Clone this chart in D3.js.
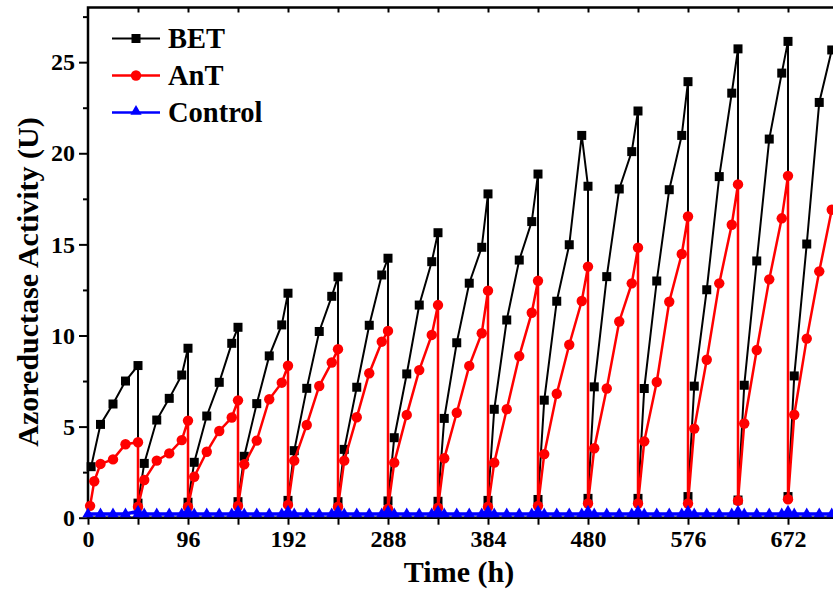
<!DOCTYPE html>
<html>
 <head>
 <meta charset="UTF-8">
 <style type="text/css">
   body { margin: 0; background: #fff; }
   svg { display: block; overflow: hidden; }
   text { font-family: "Liberation Serif", "Times New Roman", serif; font-weight: bold; }
 </style>
 <script src="https://d3js.org/d3.v7.min.js"></script>
 </head>
 <body>
 <script type="text/javascript">

    // [time (h), activity (U)]
    var betData = [
        [3,2.8],[12,5.12],[24,6.24],[36,7.5],[48,8.35],
        [48,0.8],[54,2.98],[66,5.36],[78,6.55],[90,7.83],[96,9.3],
        [96,0.85],[102,3.04],[114,5.58],[126,7.43],[138,9.57],[144,10.45],
        [144,0.88],[150,3.37],[162,6.26],[174,8.88],[186,10.58],[192,12.32],
        [192,0.95],[198,3.68],[210,7.1],[222,10.22],[234,12.15],[240,13.22],
        [240,0.88],[246,3.75],[258,7.16],[270,10.56],[282,13.32],[288,14.24],
        [288,0.92],[294,4.39],[306,7.89],[318,11.67],[330,14.05],[336,15.64],
        [336,0.9],[342,5.45],[354,9.6],[366,12.87],[378,14.84],[384,17.77],
        [384,0.95],[390,5.95],[402,10.85],[414,14.14],[426,16.25],[432,18.86],
        [432,1.0],[438,6.45],[450,11.88],[462,14.98],[474,20.98],[480,18.19],
        [480,1.06],[486,7.18],[498,13.23],[510,18.04],[522,20.09],[528,22.32],
        [528,1.06],[534,7.09],[546,12.99],[558,18.0],[570,20.98],[576,23.93],
        [576,1.16],[582,7.22],[594,12.51],[606,18.72],[618,23.3],[624,25.73],
        [624,0.97],[630,7.27],[642,14.09],[654,20.78],[666,24.4],[672,26.14],
        [672,1.16],[678,7.78],[690,15.02],[702,22.79],[714,25.67]
    ];

    var antData = [
        [2,0.65],[6,2.0],[12,2.95],[24,3.2],[36,4.03],[48,4.14],
        [48,0.6],[54,2.07],[66,3.13],[78,3.53],[90,4.26],[96,5.33],
        [96,0.6],[102,2.25],[114,3.62],[126,4.76],[138,5.5],[144,6.44],
        [144,0.64],[150,2.93],[162,4.23],[174,6.5],[186,7.41],[192,8.34],
        [192,0.7],[198,3.13],[210,5.09],[222,7.23],[234,8.52],[240,9.25],
        [240,0.6],[246,3.13],[258,5.51],[270,7.93],[282,9.66],[288,10.25],
        [288,0.5],[294,3.02],[306,5.64],[318,8.1],[330,10.03],[336,11.67],
        [336,0.55],[342,3.26],[354,5.76],[366,8.33],[378,10.12],[384,12.46],
        [384,0.6],[390,3.02],[402,5.95],[414,8.87],[426,11.25],[432,13.0],
        [432,0.65],[438,3.49],[450,6.8],[462,9.49],[474,11.89],[480,13.78],
        [480,0.78],[486,3.81],[498,7.09],[510,10.77],[522,12.86],[528,14.82],
        [528,0.78],[534,4.19],[546,7.45],[558,11.85],[570,14.47],[576,16.53],
        [576,0.78],[582,4.89],[594,8.67],[606,12.86],[618,16.08],[624,18.29],
        [624,0.93],[630,5.17],[642,9.2],[654,13.08],[666,16.43],[672,18.76],
        [672,1.01],[678,5.65],[690,9.83],[702,13.52],[714,16.9]
    ];

    var controlData = [
        [0,0.2],[12,0.2],[24,0.2],[36,0.2],[48,0.35],
        [48,0.2],[54,0.2],[66,0.2],[78,0.2],[90,0.2],[96,0.35],
        [96,0.2],[102,0.2],[114,0.2],[126,0.2],[138,0.2],[144,0.35],
        [144,0.2],[150,0.2],[162,0.2],[174,0.2],[186,0.2],[192,0.35],
        [192,0.2],[198,0.2],[210,0.2],[222,0.2],[234,0.2],[240,0.35],
        [240,0.2],[246,0.2],[258,0.2],[270,0.2],[282,0.2],[288,0.35],
        [288,0.2],[294,0.2],[306,0.2],[318,0.2],[330,0.2],[336,0.35],
        [336,0.2],[342,0.2],[354,0.2],[366,0.2],[378,0.2],[384,0.35],
        [384,0.2],[390,0.2],[402,0.2],[414,0.2],[426,0.2],[432,0.35],
        [432,0.2],[438,0.2],[450,0.2],[462,0.2],[474,0.2],[480,0.35],
        [480,0.2],[486,0.2],[498,0.2],[510,0.2],[522,0.2],[528,0.35],
        [528,0.2],[534,0.2],[546,0.2],[558,0.2],[570,0.2],[576,0.35],
        [576,0.2],[582,0.2],[594,0.2],[606,0.2],[618,0.2],[624,0.35],
        [624,0.2],[630,0.2],[642,0.2],[654,0.2],[666,0.2],[672,0.35],
        [672,0.2],[678,0.2],[690,0.2],[702,0.2],[714,0.2],[726,0.2]
    ];

    var xTicks = [0, 96, 192, 288, 384, 480, 576, 672];
    var yTicks = [0, 5, 10, 15, 20, 25];

    var width = 833, height = 590;
    var plotLeft = 88, plotBottom = 517.7, plotTop = 7.5;

    var x = d3.scaleLinear().domain([0, 720]).range([plotLeft, plotLeft + 750]);
    var y = d3.scaleLinear().domain([0, 28]).range([plotBottom, plotTop]);

    var svg = d3.select("body").append("svg")
        .attr("width", width)
        .attr("height", height);

    // axes
    var xAxis = d3.axisBottom(x).tickValues(xTicks).tickSize(7).tickPadding(5);
    var xMinor = d3.axisBottom(x).tickValues(d3.range(48, 720, 96)).tickSize(7).tickFormat("");
    var yAxis = d3.axisLeft(y).tickValues(yTicks).tickSize(9).tickPadding(4);
    var yMinor = d3.axisLeft(y).tickValues(d3.range(2.5, 28, 5)).tickSize(5).tickFormat("");
    var topAxis = d3.axisBottom(x).tickValues(d3.range(48, 720, 48)).tickSize(5).tickFormat("");

    function styleAxis(g) {
        g.select(".domain").remove();
        g.selectAll("line").attr("stroke", "#000").attr("stroke-width", 2);
        g.selectAll("text").attr("font-size", "24px").attr("fill", "#000")
            .style("font-family", "'Liberation Serif', serif").style("font-weight", "bold");
    }

    svg.append("g").attr("transform", "translate(0," + plotBottom + ")").call(xAxis).call(styleAxis);
    svg.append("g").attr("transform", "translate(0," + plotBottom + ")").call(xMinor).call(styleAxis);
    svg.append("g").attr("transform", "translate(" + plotLeft + ",0)").call(yAxis).call(styleAxis);
    svg.append("g").attr("transform", "translate(" + plotLeft + ",0)").call(yMinor).call(styleAxis);
    svg.append("g").attr("transform", "translate(0," + plotTop + ")").call(topAxis).call(styleAxis);

    // frame
    svg.append("path")
        .attr("d", "M" + width + "," + plotTop + "H" + plotLeft + "V" + plotBottom + "H" + width)
        .attr("fill", "none").attr("stroke", "#000").attr("stroke-width", 2.5);

    var line = d3.line()
        .x(function(d) { return x(d[0]); })
        .y(function(d) { return y(d[1]); });

    var plot = svg.append("g");

    // BET
    plot.append("path").attr("d", line(betData))
        .attr("fill", "none").attr("stroke", "#000").attr("stroke-width", 2);
    plot.selectAll(".bet").data(betData).enter().append("rect")
        .attr("x", function(d) { return x(d[0]) - 4.5; })
        .attr("y", function(d) { return y(d[1]) - 4.5; })
        .attr("width", 9).attr("height", 9).attr("fill", "#000");

    // AnT
    plot.append("path").attr("d", line(antData))
        .attr("fill", "none").attr("stroke", "#f00").attr("stroke-width", 2.5);
    plot.selectAll(".ant").data(antData).enter().append("circle")
        .attr("cx", function(d) { return x(d[0]); })
        .attr("cy", function(d) { return y(d[1]); })
        .attr("r", 5.2).attr("fill", "#f00");

    // Control
    var tri = d3.symbol().type(d3.symbolTriangle).size(55);
    plot.append("path").attr("d", line(controlData))
        .attr("fill", "none").attr("stroke", "#00f").attr("stroke-width", 3.5);
    plot.selectAll(".ctl").data(controlData).enter().append("path")
        .attr("d", tri)
        .attr("transform", function(d) { return "translate(" + x(d[0]) + "," + y(d[1]) + ")"; })
        .attr("fill", "#00f");

    // legend
    var legendItems = [
        {name: "BET", color: "#000", shape: "square"},
        {name: "AnT", color: "#f00", shape: "circle"},
        {name: "Control", color: "#00f", shape: "triangle"}
    ];
    var lg = svg.append("g");
    legendItems.forEach(function(item, i) {
        var ly = 38.5 + i * 37;
        lg.append("line").attr("x1", 112).attr("x2", 160).attr("y1", ly).attr("y2", ly)
            .attr("stroke", item.color).attr("stroke-width", item.shape == "square" ? 2 : 2.5);
        if (item.shape == "square") {
            lg.append("rect").attr("x", 131.5).attr("y", ly - 4.5).attr("width", 9).attr("height", 9).attr("fill", item.color);
        } else if (item.shape == "circle") {
            lg.append("circle").attr("cx", 136).attr("cy", ly).attr("r", 5.2).attr("fill", item.color);
        } else {
            lg.append("path").attr("d", tri).attr("transform", "translate(136," + (ly - 1) + ")").attr("fill", item.color);
        }
        lg.append("text").attr("x", 168).attr("y", ly).attr("dy", "0.35em")
            .attr("font-size", "28.5px").attr("fill", "#000").text(item.name);
    });

    // axis titles
    svg.append("text").attr("x", 459).attr("y", 582)
        .attr("text-anchor", "middle").attr("font-size", "30px").text("Time (h)");
    svg.append("text")
        .attr("transform", "translate(38,282) rotate(-90)")
        .attr("text-anchor", "middle").attr("font-size", "30px").text("Azoreductase Activity (U)");

 </script>
 </body>
</html>
